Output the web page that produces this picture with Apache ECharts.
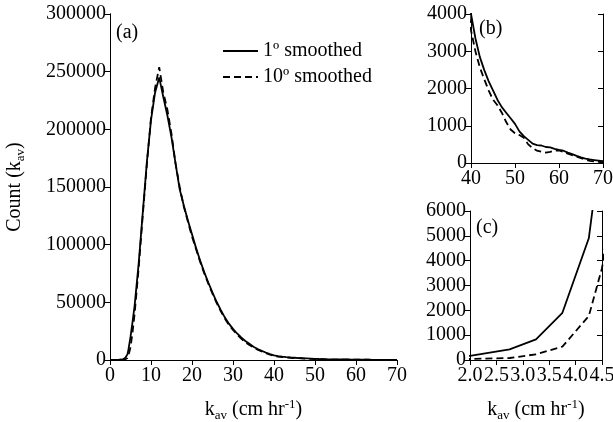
<!DOCTYPE html>
<html><head><meta charset="utf-8">
<script src="https://cdn.jsdelivr.net/npm/echarts@6/dist/echarts.min.js"></script>
<style>html,body{margin:0;padding:0;background:#fff}#c{width:613px;height:422px}</style>
</head><body><div id="c"></div>
<script>
// k_av values (cm/hr)
const kav = [0, 1, 2.0, 2.75, 3.25, 3.75, 4.25, 4.5, 5, 5.5, 6, 7, 8, 9, 10, 11, 12, 13, 14, 15, 16, 17, 18, 19, 20,
  21, 22, 23, 24, 25, 26, 27, 28, 29, 30, 31, 32, 33, 34, 35, 36, 37, 38, 39, 40,
  41, 42, 43, 44, 45, 46, 47, 48, 49, 50, 51, 52, 53, 54, 55, 56, 57, 58, 59, 60,
  61, 62, 63, 64, 65, 66, 67, 68, 69, 70];
// 1º smoothed counts
const smooth1 = [0, 30, 170, 430, 830, 1900, 4900, 9000, 20000, 33000, 47000, 84000, 128000, 172000, 208000, 232000, 245000, 228000, 212000, 193000, 170000, 148000, 134000, 121000, 109000,
  97000, 86000, 76000, 67000, 58500, 50500, 43500, 37000, 31500, 27000, 23000, 19500, 16500, 14000, 11500, 9500, 7900, 6500, 5200, 4000,
  3350, 2850, 2500, 2200, 1950, 1700, 1500, 1350, 1200, 1050, 850, 720, 620, 520, 480, 470, 430, 420, 380, 350,
  330, 280, 240, 190, 150, 120, 95, 80, 65, 50];
// 10º smoothed counts
const smooth10 = [0, 10, 40, 80, 230, 540, 1770, 3700, 11000, 24000, 40000, 80000, 126000, 170000, 210000, 236000, 254000, 232000, 217000, 196000, 170000, 150000, 133000, 120000, 107000,
  96000, 85000, 75000, 66000, 57500, 49500, 42500, 36000, 30500, 26000, 22000, 18500, 15500, 13000, 11000, 9000, 7500, 6000, 4700, 3560,
  3000, 2570, 2250, 1950, 1700, 1550, 1350, 1100, 900, 800, 750, 680, 500, 400, 330, 300, 280, 300, 330, 340,
  300, 250, 210, 170, 130, 90, 60, 40, 30, 20];
const legendNames = ['1º smoothed', '10º smoothed'];
const panelLabels = ['(a)', '(b)', '(c)'];

const FONT = 'Liberation Serif';
const FS = 20;
const pts = arr => kav.map((k, i) => [k, arr[i]]);
const grids = [
  {left: 110, top: 14, width: 287, height: 346, outerBoundsMode: 'none', containLabel: false},
  {left: 471, top: 14, width: 132, height: 149, outerBoundsMode: 'none', containLabel: false},
  {left: 470, top: 211, width: 132, height: 149, outerBoundsMode: 'none', containLabel: false}
];
const xr = [[0, 70, 10], [40, 70, 10], [2.0, 4.5, 0.5]];
const yr = [[0, 300000, 50000], [0, 4000, 1000], [0, 6000, 1000]];
const axLine = {show: true, lineStyle: {color: '#000', width: 1}};
const xAxis = [], yAxis = [], series = [];
const kavName = '{b|k}{s|av}{b| (cm hr}{p|-1}{b|)}';
const nameRich = {
  b: {fontFamily: FONT, fontSize: FS, color: '#000'},
  s: {fontFamily: FONT, fontSize: 13, color: '#000', padding: [11, 0, 0, 0]},
  p: {fontFamily: FONT, fontSize: 13, color: '#000', padding: [0, 0, 10, 0]}
};
grids.forEach((g, i) => {
  const lblFmt = i === 2 ? (v => v.toFixed(1)) : (v => String(v));
  xAxis.push({gridIndex: i, type: 'value', position: 'bottom', min: xr[i][0], max: xr[i][1], interval: xr[i][2],
    axisLine: axLine, axisTick: {show: true, inside: false, length: 5, lineStyle: {color: '#000'}},
    splitLine: {show: false},
    axisLabel: {color: '#000', fontFamily: FONT, fontSize: FS, margin: 6, formatter: lblFmt},
    name: (i === 1) ? '' : kavName, nameLocation: 'middle', nameGap: 38,
    nameTextStyle: {rich: nameRich}});
  xAxis.push({gridIndex: i, type: 'value', position: 'top', min: xr[i][0], max: xr[i][1], interval: xr[i][2],
    axisLine: axLine, axisTick: {show: true, inside: true, length: 5, lineStyle: {color: '#000'}},
    splitLine: {show: false}, axisLabel: {show: false}});
  yAxis.push({gridIndex: i, type: 'value', position: 'left', min: yr[i][0], max: yr[i][1], interval: yr[i][2],
    axisLine: axLine, axisTick: {show: true, inside: false, length: 5, lineStyle: {color: '#000'}},
    splitLine: {show: false},
    axisLabel: {color: '#000', fontFamily: FONT, fontSize: FS, margin: 4, formatter: v => String(v)},
    name: i === 0 ? '{b|Count (k}{s|av}{b|)}' : '', nameLocation: 'middle', nameGap: 83, nameRotate: 90,
    nameTextStyle: {rich: nameRich}});
  yAxis.push({gridIndex: i, type: 'value', position: 'right', min: yr[i][0], max: yr[i][1], interval: yr[i][2],
    axisLine: axLine, axisTick: {show: true, inside: true, length: 5, lineStyle: {color: '#000'}},
    splitLine: {show: false}, axisLabel: {show: false}});
  series.push({name: legendNames[0], type: 'line', xAxisIndex: 2 * i, yAxisIndex: 2 * i, data: pts(smooth1),
    symbol: 'none', clip: true, lineStyle: {color: '#000', width: 1.8, type: 'solid'}, itemStyle: {color: '#000'}, z: 3});
  series.push({name: legendNames[1], type: 'line', xAxisIndex: 2 * i, yAxisIndex: 2 * i, data: pts(smooth10),
    symbol: 'none', clip: true, lineStyle: {color: '#000', width: 1.8, type: [7, 4]}, itemStyle: {color: '#000'}, z: 2});
});
const labelPos = [[116, 23], [479, 19], [476, 218]];
const chart = echarts.init(document.getElementById('c'), null, {renderer: 'canvas'});
chart.setOption({
  animation: false,
  backgroundColor: '#fff',
  grid: grids,
  xAxis, yAxis, series,
  legend: {data: legendNames, orient: 'vertical', left: 217, top: 36, itemWidth: 35, itemHeight: 10, itemGap: 6,
    itemStyle: {opacity: 0},
    textStyle: {fontFamily: FONT, fontSize: FS, color: '#000'}},
  graphic: panelLabels.map((t, i) => ({type: 'text', left: labelPos[i][0], top: labelPos[i][1],
    style: {text: t, fontFamily: FONT, fontSize: FS, fill: '#000'}}))
});
</script></body></html>
